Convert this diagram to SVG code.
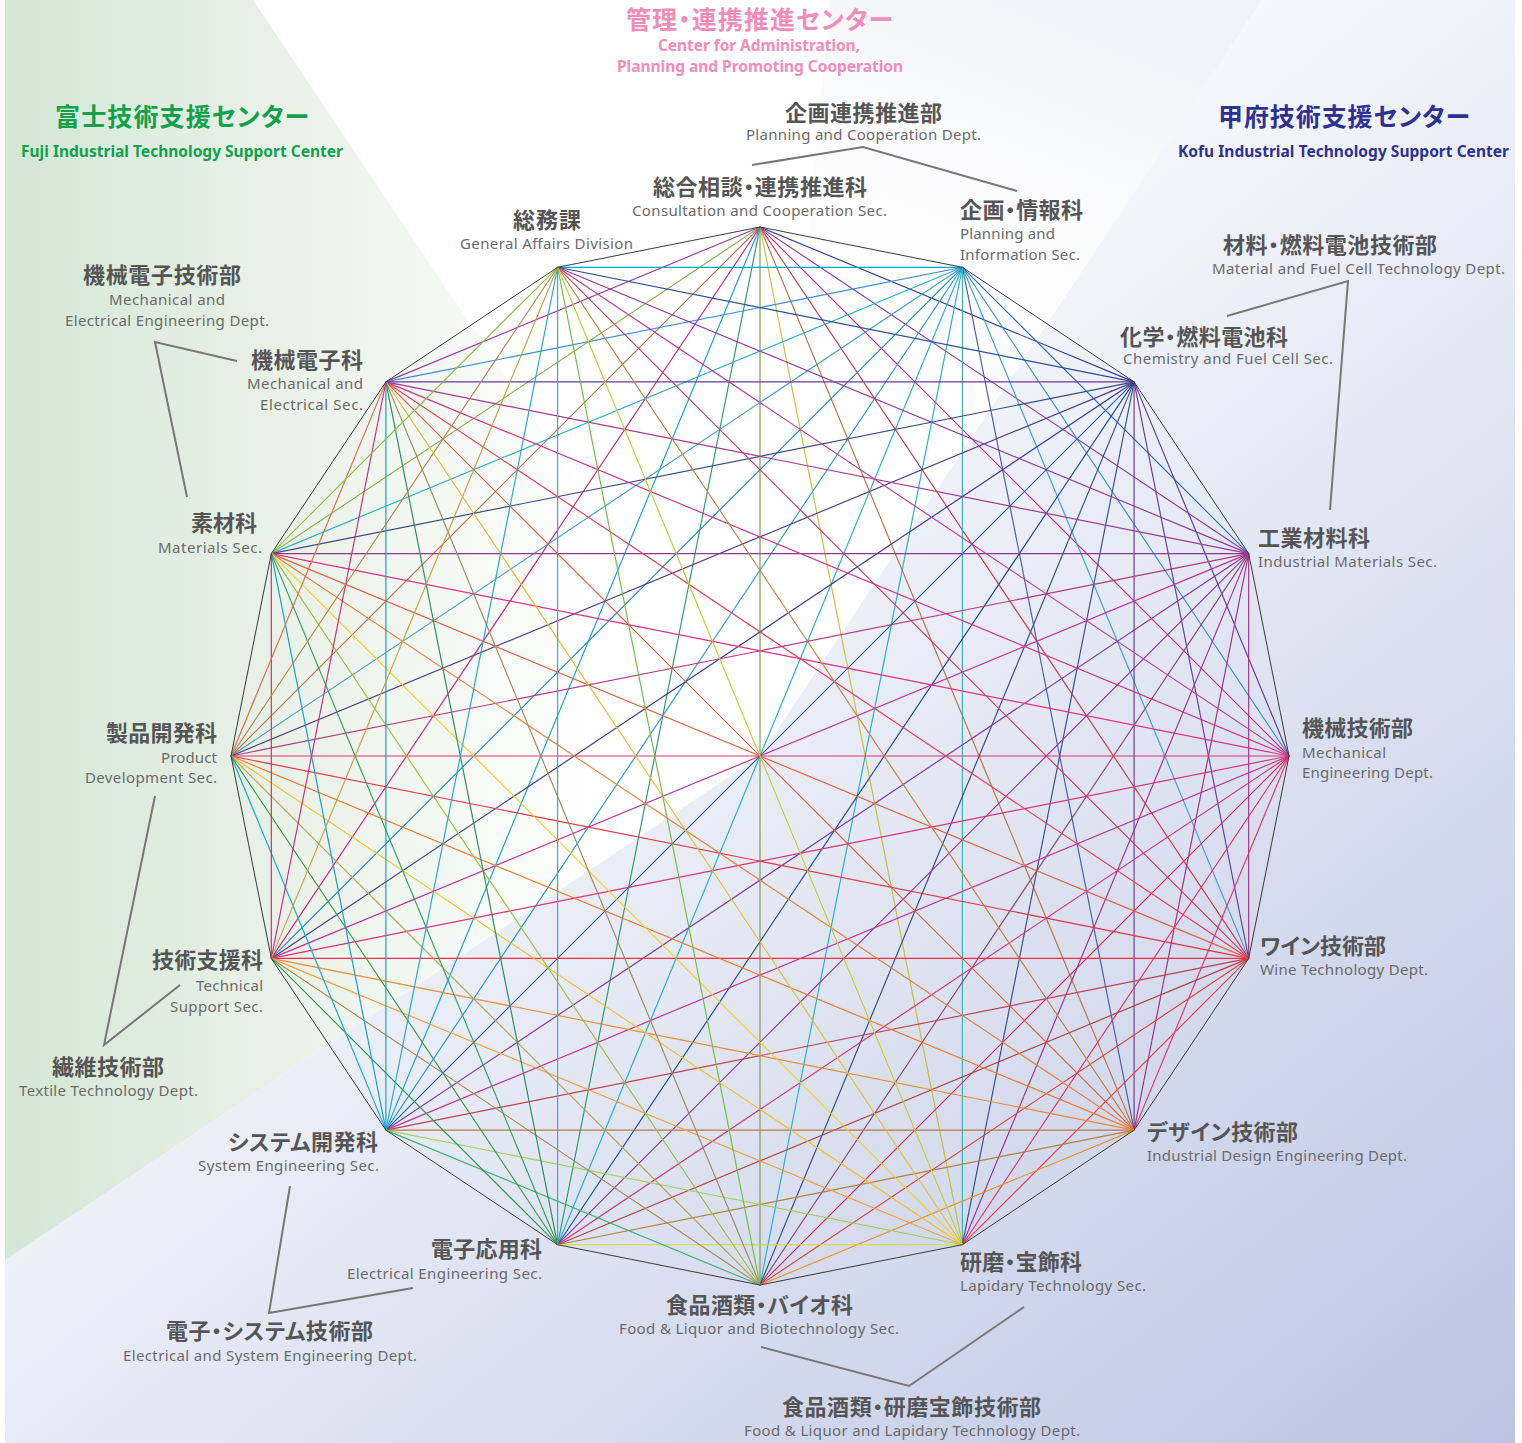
<svg xmlns="http://www.w3.org/2000/svg" width="1522" height="1443" viewBox="0 0 1522 1443">
<defs>
<linearGradient id="gGreen" x1="5" y1="0" x2="600" y2="0" gradientUnits="userSpaceOnUse">
<stop offset="0" stop-color="#d3e7d5"/><stop offset="0.5" stop-color="#ebf2e9"/><stop offset="1" stop-color="#ffffff"/>
</linearGradient>
<linearGradient id="gBlue" x1="600" y1="300" x2="1515" y2="1443" gradientUnits="userSpaceOnUse">
<stop offset="0" stop-color="#ffffff"/><stop offset="1" stop-color="#bbc5e3"/>
</linearGradient>
<linearGradient id="gTop" x1="1100" y1="0" x2="900" y2="500" gradientUnits="userSpaceOnUse">
<stop offset="0" stop-color="#f2f3f6"/><stop offset="1" stop-color="#ffffff" stop-opacity="0"/>
</linearGradient>
<style>
.jp{font-family:"Noto Sans CJK JP","Noto Sans",sans-serif;font-weight:700;font-size:22px;fill:#555555;font-feature-settings:"palt" 1}
.en{font-family:"Noto Sans","Noto Sans CJK JP",sans-serif;font-weight:400;font-size:15px;fill:#6a6a6a}
.hjp{font-family:"Noto Sans CJK JP","Noto Sans",sans-serif;font-weight:700;font-size:25px;font-feature-settings:"palt" 1}
.hen{font-family:"Noto Sans","Noto Sans CJK JP",sans-serif;font-weight:700;font-size:15.5px}
.pink{fill:#f28cb8}.green{fill:#12a04c}.navy{fill:#2e3192}
.br{fill:none;stroke:#777777;stroke-width:2}
.c line{stroke-width:1.15}
.edge{fill:none;stroke:#3a3a3a;stroke-width:1}
</style>
</defs>
<rect width="1522" height="1443" fill="#ffffff"/>
<polygon points="760,756 830,0 1262,0" fill="url(#gTop)"/>
<polygon points="760,756 1262,0 1515,0 1515,1443 5,1443 5,1260" fill="url(#gBlue)"/>
<polygon points="5,0 253,0 760,756 5,1260" fill="url(#gGreen)"/>

<g id="connectors" class="c">
<line x1="760" y1="227" x2="1134.1" y2="381.9" stroke="#2e3a90"/>
<line x1="760" y1="227" x2="1248.7" y2="553.6" stroke="#8a3b9c"/>
<line x1="760" y1="227" x2="1289" y2="756" stroke="#c0307e"/>
<line x1="760" y1="227" x2="1248.7" y2="958.4" stroke="#c83a50"/>
<line x1="760" y1="227" x2="1134.1" y2="1130.1" stroke="#c0703e"/>
<line x1="760" y1="227" x2="962.4" y2="1244.7" stroke="#c8c030"/>
<line x1="760" y1="227" x2="760" y2="1285" stroke="#7a9a48"/>
<line x1="760" y1="227" x2="557.6" y2="1244.7" stroke="#2a9a6a"/>
<line x1="760" y1="227" x2="385.9" y2="1130.1" stroke="#10a0dc"/>
<line x1="760" y1="227" x2="271.3" y2="958.4" stroke="#d0237e"/>
<line x1="760" y1="227" x2="231" y2="756" stroke="#b07050"/>
<line x1="760" y1="227" x2="271.3" y2="553.6" stroke="#8ab04c"/>
<line x1="760" y1="227" x2="385.9" y2="381.9" stroke="#9a3a9e"/>
<line x1="962.4" y1="267.3" x2="1248.7" y2="553.6" stroke="#2f6db5"/>
<line x1="962.4" y1="267.3" x2="1289" y2="756" stroke="#3890d0"/>
<line x1="962.4" y1="267.3" x2="1248.7" y2="958.4" stroke="#3aa0d0"/>
<line x1="962.4" y1="267.3" x2="1134.1" y2="1130.1" stroke="#4a5aa8"/>
<line x1="962.4" y1="267.3" x2="962.4" y2="1244.7" stroke="#3ab0b8"/>
<line x1="962.4" y1="267.3" x2="760" y2="1285" stroke="#20b0c8"/>
<line x1="962.4" y1="267.3" x2="557.6" y2="1244.7" stroke="#20b0d0"/>
<line x1="962.4" y1="267.3" x2="385.9" y2="1130.1" stroke="#2a9ad8"/>
<line x1="962.4" y1="267.3" x2="271.3" y2="958.4" stroke="#1a8ac8"/>
<line x1="962.4" y1="267.3" x2="231" y2="756" stroke="#40a0c0"/>
<line x1="962.4" y1="267.3" x2="271.3" y2="553.6" stroke="#2ab0c0"/>
<line x1="962.4" y1="267.3" x2="385.9" y2="381.9" stroke="#3a8ad0"/>
<line x1="962.4" y1="267.3" x2="557.6" y2="267.3" stroke="#00a8c8"/>
<line x1="1134.1" y1="381.9" x2="1289" y2="756" stroke="#5a3a98"/>
<line x1="1134.1" y1="381.9" x2="1248.7" y2="958.4" stroke="#6a3a98"/>
<line x1="1134.1" y1="381.9" x2="1134.1" y2="1130.1" stroke="#6b3a8b"/>
<line x1="1134.1" y1="381.9" x2="962.4" y2="1244.7" stroke="#3a4a8a"/>
<line x1="1134.1" y1="381.9" x2="760" y2="1285" stroke="#3a4a7a"/>
<line x1="1134.1" y1="381.9" x2="557.6" y2="1244.7" stroke="#1a4a90"/>
<line x1="1134.1" y1="381.9" x2="385.9" y2="1130.1" stroke="#2b5ca8"/>
<line x1="1134.1" y1="381.9" x2="271.3" y2="958.4" stroke="#3a3a8a"/>
<line x1="1134.1" y1="381.9" x2="231" y2="756" stroke="#503a80"/>
<line x1="1134.1" y1="381.9" x2="271.3" y2="553.6" stroke="#3a4a80"/>
<line x1="1134.1" y1="381.9" x2="385.9" y2="381.9" stroke="#6a3a96"/>
<line x1="1134.1" y1="381.9" x2="557.6" y2="267.3" stroke="#2a5090"/>
<line x1="1248.7" y1="553.6" x2="1248.7" y2="958.4" stroke="#a0307f"/>
<line x1="1248.7" y1="553.6" x2="1134.1" y2="1130.1" stroke="#a03080"/>
<line x1="1248.7" y1="553.6" x2="962.4" y2="1244.7" stroke="#a0308a"/>
<line x1="1248.7" y1="553.6" x2="760" y2="1285" stroke="#8a4a70"/>
<line x1="1248.7" y1="553.6" x2="557.6" y2="1244.7" stroke="#8a3a9a"/>
<line x1="1248.7" y1="553.6" x2="385.9" y2="1130.1" stroke="#7a3a9a"/>
<line x1="1248.7" y1="553.6" x2="271.3" y2="958.4" stroke="#c0309a"/>
<line x1="1248.7" y1="553.6" x2="231" y2="756" stroke="#b03a7a"/>
<line x1="1248.7" y1="553.6" x2="271.3" y2="553.6" stroke="#92358f"/>
<line x1="1248.7" y1="553.6" x2="385.9" y2="381.9" stroke="#a03a90"/>
<line x1="1248.7" y1="553.6" x2="557.6" y2="267.3" stroke="#903a98"/>
<line x1="1289" y1="756" x2="1134.1" y2="1130.1" stroke="#e83070"/>
<line x1="1289" y1="756" x2="962.4" y2="1244.7" stroke="#e8306a"/>
<line x1="1289" y1="756" x2="760" y2="1285" stroke="#d02860"/>
<line x1="1289" y1="756" x2="557.6" y2="1244.7" stroke="#d0307a"/>
<line x1="1289" y1="756" x2="385.9" y2="1130.1" stroke="#c03090"/>
<line x1="1289" y1="756" x2="271.3" y2="958.4" stroke="#e0307a"/>
<line x1="1289" y1="756" x2="231" y2="756" stroke="#e8316e"/>
<line x1="1289" y1="756" x2="271.3" y2="553.6" stroke="#e03080"/>
<line x1="1289" y1="756" x2="385.9" y2="381.9" stroke="#d03080"/>
<line x1="1289" y1="756" x2="557.6" y2="267.3" stroke="#c03a90"/>
<line x1="1248.7" y1="958.4" x2="962.4" y2="1244.7" stroke="#e84048"/>
<line x1="1248.7" y1="958.4" x2="760" y2="1285" stroke="#e0403a"/>
<line x1="1248.7" y1="958.4" x2="557.6" y2="1244.7" stroke="#b04040"/>
<line x1="1248.7" y1="958.4" x2="385.9" y2="1130.1" stroke="#c04050"/>
<line x1="1248.7" y1="958.4" x2="271.3" y2="958.4" stroke="#e5304f"/>
<line x1="1248.7" y1="958.4" x2="231" y2="756" stroke="#e83040"/>
<line x1="1248.7" y1="958.4" x2="271.3" y2="553.6" stroke="#e06040"/>
<line x1="1248.7" y1="958.4" x2="385.9" y2="381.9" stroke="#e83a58"/>
<line x1="1248.7" y1="958.4" x2="557.6" y2="267.3" stroke="#d03a60"/>
<line x1="1134.1" y1="1130.1" x2="760" y2="1285" stroke="#e8902e"/>
<line x1="1134.1" y1="1130.1" x2="557.6" y2="1244.7" stroke="#b08040"/>
<line x1="1134.1" y1="1130.1" x2="385.9" y2="1130.1" stroke="#b47a48"/>
<line x1="1134.1" y1="1130.1" x2="271.3" y2="958.4" stroke="#f08a38"/>
<line x1="1134.1" y1="1130.1" x2="231" y2="756" stroke="#f07830"/>
<line x1="1134.1" y1="1130.1" x2="271.3" y2="553.6" stroke="#e88040"/>
<line x1="1134.1" y1="1130.1" x2="385.9" y2="381.9" stroke="#e05a3c"/>
<line x1="1134.1" y1="1130.1" x2="557.6" y2="267.3" stroke="#c88040"/>
<line x1="962.4" y1="1244.7" x2="557.6" y2="1244.7" stroke="#d4dc20"/>
<line x1="962.4" y1="1244.7" x2="385.9" y2="1130.1" stroke="#a0d060"/>
<line x1="962.4" y1="1244.7" x2="271.3" y2="958.4" stroke="#f0a040"/>
<line x1="962.4" y1="1244.7" x2="231" y2="756" stroke="#f0c020"/>
<line x1="962.4" y1="1244.7" x2="271.3" y2="553.6" stroke="#f0d020"/>
<line x1="962.4" y1="1244.7" x2="385.9" y2="381.9" stroke="#e0c030"/>
<line x1="962.4" y1="1244.7" x2="557.6" y2="267.3" stroke="#c0d030"/>
<line x1="760" y1="1285" x2="385.9" y2="1130.1" stroke="#3cb070"/>
<line x1="760" y1="1285" x2="271.3" y2="958.4" stroke="#a88a58"/>
<line x1="760" y1="1285" x2="231" y2="756" stroke="#b0a050"/>
<line x1="760" y1="1285" x2="271.3" y2="553.6" stroke="#9cc040"/>
<line x1="760" y1="1285" x2="385.9" y2="381.9" stroke="#9a8a5a"/>
<line x1="760" y1="1285" x2="557.6" y2="267.3" stroke="#6cbf3c"/>
<line x1="557.6" y1="1244.7" x2="271.3" y2="958.4" stroke="#2a9a50"/>
<line x1="557.6" y1="1244.7" x2="231" y2="756" stroke="#3a9a40"/>
<line x1="557.6" y1="1244.7" x2="271.3" y2="553.6" stroke="#30a060"/>
<line x1="557.6" y1="1244.7" x2="385.9" y2="381.9" stroke="#2a8a60"/>
<line x1="557.6" y1="1244.7" x2="557.6" y2="267.3" stroke="#30a8d8"/>
<line x1="385.9" y1="1130.1" x2="231" y2="756" stroke="#10a8d8"/>
<line x1="385.9" y1="1130.1" x2="271.3" y2="553.6" stroke="#10a0d0"/>
<line x1="385.9" y1="1130.1" x2="385.9" y2="381.9" stroke="#00a0d8"/>
<line x1="385.9" y1="1130.1" x2="557.6" y2="267.3" stroke="#20a8d0"/>
<line x1="271.3" y1="958.4" x2="271.3" y2="553.6" stroke="#c82870"/>
<line x1="271.3" y1="958.4" x2="385.9" y2="381.9" stroke="#d02a80"/>
<line x1="271.3" y1="958.4" x2="557.6" y2="267.3" stroke="#c8a040"/>
<line x1="231" y1="756" x2="385.9" y2="381.9" stroke="#e06a4a"/>
<line x1="231" y1="756" x2="557.6" y2="267.3" stroke="#b08a50"/>
<line x1="271.3" y1="553.6" x2="557.6" y2="267.3" stroke="#8ac040"/>
<polygon class="edge" points="760,227 962.4,267.3 1134.1,381.9 1248.7,553.6 1289,756 1248.7,958.4 1134.1,1130.1 962.4,1244.7 760,1285 557.6,1244.7 385.9,1130.1 271.3,958.4 231,756 271.3,553.6 385.9,381.9 557.6,267.3"/>
</g>

<g id="brackets">
<polyline class="br" points="752,165 863,147 1017,191"/>
<polyline class="br" points="1227,316 1348,281 1330,510"/>
<polyline class="br" points="237,361 155,342 187,497"/>
<polyline class="br" points="155,796 104,1045 180,985"/>
<polyline class="br" points="290,1186 269,1313 413,1288"/>
<polyline class="br" points="761,1347 909,1386 1024,1307"/>
</g>

<g id="center-admin">
<text class="hjp pink" x="626" y="29" textLength="267" lengthAdjust="spacing">管理・連携推進センター</text>
<text class="hen pink" x="658" y="51" textLength="202" lengthAdjust="spacing">Center for Administration,</text>
<text class="hen pink" x="617" y="72" textLength="286" lengthAdjust="spacing">Planning and Promoting Cooperation</text>
</g>
<g id="center-fuji">
<text class="hjp green" x="55" y="126" textLength="254" lengthAdjust="spacing">富士技術支援センター</text>
<text class="hen green" x="21" y="157" textLength="322" lengthAdjust="spacing">Fuji Industrial Technology Support Center</text>
</g>
<g id="center-kofu">
<text class="hjp navy" x="1218" y="126" textLength="252" lengthAdjust="spacing">甲府技術支援センター</text>
<text class="hen navy" x="1178" y="157" textLength="331" lengthAdjust="spacing">Kofu Industrial Technology Support Center</text>
</g>

<g id="dept-planning">
<text class="jp" x="785" y="121" textLength="157" lengthAdjust="spacing">企画連携推進部</text>
<text class="en" x="746" y="140" textLength="235" lengthAdjust="spacing">Planning and Cooperation Dept.</text>
</g>
<g id="sec-consultation">
<text class="jp" x="653" y="195" textLength="214" lengthAdjust="spacing">総合相談・連携推進科</text>
<text class="en" x="632" y="216" textLength="255" lengthAdjust="spacing">Consultation and Cooperation Sec.</text>
</g>
<g id="div-general">
<text class="jp" x="513" y="228" textLength="68" lengthAdjust="spacing">総務課</text>
<text class="en" x="460" y="249" textLength="173" lengthAdjust="spacing">General Affairs Division</text>
</g>
<g id="sec-planning-info">
<text class="jp" x="960" y="218" textLength="123" lengthAdjust="spacing">企画・情報科</text>
<text class="en" x="960" y="239" textLength="95" lengthAdjust="spacing">Planning and</text>
<text class="en" x="960" y="260" textLength="120" lengthAdjust="spacing">Information Sec.</text>
</g>
<g id="dept-material">
<text class="jp" x="1223" y="253" textLength="214" lengthAdjust="spacing">材料・燃料電池技術部</text>
<text class="en" x="1212" y="274" textLength="293" lengthAdjust="spacing">Material and Fuel Cell Technology Dept.</text>
</g>
<g id="sec-chemistry">
<text class="jp" x="1120" y="345" textLength="168" lengthAdjust="spacing">化学・燃料電池科</text>
<text class="en" x="1123" y="364" textLength="210" lengthAdjust="spacing">Chemistry and Fuel Cell Sec.</text>
</g>
<g id="sec-industrial-materials">
<text class="jp" x="1258" y="546" textLength="112" lengthAdjust="spacing">工業材料科</text>
<text class="en" x="1258" y="567" textLength="179" lengthAdjust="spacing">Industrial Materials Sec.</text>
</g>
<g id="dept-mechanical">
<text class="jp" x="1302" y="736" textLength="111" lengthAdjust="spacing">機械技術部</text>
<text class="en" x="1302" y="758" textLength="84" lengthAdjust="spacing">Mechanical</text>
<text class="en" x="1302" y="778" textLength="131" lengthAdjust="spacing">Engineering Dept.</text>
</g>
<g id="dept-wine">
<text class="jp" x="1260" y="954" textLength="126" lengthAdjust="spacing">ワイン技術部</text>
<text class="en" x="1260" y="975" textLength="168" lengthAdjust="spacing">Wine Technology Dept.</text>
</g>
<g id="dept-design">
<text class="jp" x="1147" y="1140" textLength="151" lengthAdjust="spacing">デザイン技術部</text>
<text class="en" x="1147" y="1161" textLength="260" lengthAdjust="spacing">Industrial Design Engineering Dept.</text>
</g>
<g id="sec-lapidary">
<text class="jp" x="960" y="1270" textLength="122" lengthAdjust="spacing">研磨・宝飾科</text>
<text class="en" x="960" y="1291" textLength="186" lengthAdjust="spacing">Lapidary Technology Sec.</text>
</g>
<g id="sec-food">
<text class="jp" x="666" y="1313" textLength="187" lengthAdjust="spacing">食品酒類・バイオ科</text>
<text class="en" x="619" y="1334" textLength="280" lengthAdjust="spacing">Food &amp; Liquor and Biotechnology Sec.</text>
</g>
<g id="dept-food-lapidary">
<text class="jp" x="782" y="1415" textLength="259" lengthAdjust="spacing">食品酒類・研磨宝飾技術部</text>
<text class="en" x="744" y="1436" textLength="336" lengthAdjust="spacing">Food &amp; Liquor and Lapidary Technology Dept.</text>
</g>
<g id="sec-electrical">
<text class="jp" x="431" y="1257" textLength="111" lengthAdjust="spacing">電子応用科</text>
<text class="en" x="347" y="1279" textLength="195" lengthAdjust="spacing">Electrical Engineering Sec.</text>
</g>
<g id="sec-system">
<text class="jp" x="228" y="1150" textLength="150" lengthAdjust="spacing">システム開発科</text>
<text class="en" x="198" y="1171" textLength="181" lengthAdjust="spacing">System Engineering Sec.</text>
</g>
<g id="dept-electrical-system">
<text class="jp" x="166" y="1339" textLength="207" lengthAdjust="spacing">電子・システム技術部</text>
<text class="en" x="123" y="1361" textLength="294" lengthAdjust="spacing">Electrical and System Engineering Dept.</text>
</g>
<g id="sec-technical-support">
<text class="jp" x="152" y="968" textLength="111" lengthAdjust="spacing">技術支援科</text>
<text class="en" x="196" y="991" textLength="67" lengthAdjust="spacing">Technical</text>
<text class="en" x="170" y="1012" textLength="93" lengthAdjust="spacing">Support Sec.</text>
</g>
<g id="dept-textile">
<text class="jp" x="52" y="1075" textLength="112" lengthAdjust="spacing">繊維技術部</text>
<text class="en" x="19" y="1096" textLength="179" lengthAdjust="spacing">Textile Technology Dept.</text>
</g>
<g id="sec-product">
<text class="jp" x="106" y="741" textLength="111" lengthAdjust="spacing">製品開発科</text>
<text class="en" x="161" y="763" textLength="56" lengthAdjust="spacing">Product</text>
<text class="en" x="85" y="783" textLength="132" lengthAdjust="spacing">Development Sec.</text>
</g>
<g id="sec-materials">
<text class="jp" x="191" y="531" textLength="66" lengthAdjust="spacing">素材科</text>
<text class="en" x="158" y="553" textLength="104" lengthAdjust="spacing">Materials Sec.</text>
</g>
<g id="sec-mech-elec">
<text class="jp" x="251" y="368" textLength="112" lengthAdjust="spacing">機械電子科</text>
<text class="en" x="247" y="389" textLength="116" lengthAdjust="spacing">Mechanical and</text>
<text class="en" x="260" y="410" textLength="103" lengthAdjust="spacing">Electrical Sec.</text>
</g>
<g id="dept-mech-elec">
<text class="jp" x="83" y="283" textLength="158" lengthAdjust="spacing">機械電子技術部</text>
<text class="en" x="109" y="305" textLength="116" lengthAdjust="spacing">Mechanical and</text>
<text class="en" x="65" y="326" textLength="204" lengthAdjust="spacing">Electrical Engineering Dept.</text>
</g>
</svg>
